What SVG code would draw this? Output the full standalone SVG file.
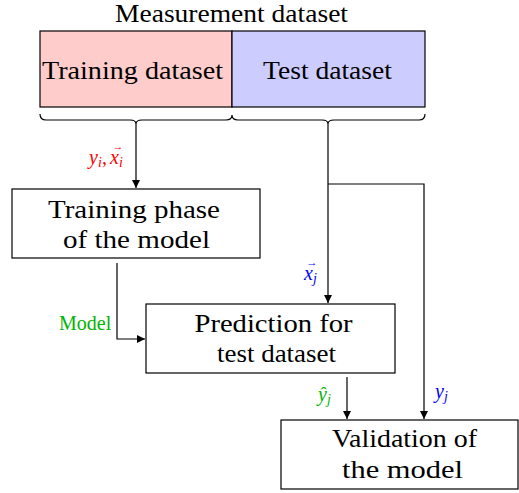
<svg xmlns="http://www.w3.org/2000/svg" width="519" height="493" viewBox="0 0 519 493">
<style>
.box{fill:#fff;stroke:#000;stroke-width:1.2}
.t{font-family:"Liberation Serif","DejaVu Serif",serif;font-size:25px;fill:#000;text-anchor:middle}
.m{font-family:"Liberation Serif","DejaVu Serif",serif;font-style:italic;font-size:20px}
.sub{font-size:14px}
.acc{font-size:11px;font-style:normal}
.c{fill:none;stroke:#000;stroke-width:1.2}
.red{fill:#ff0000}.blue{fill:#0000ff}.green{fill:#00b400}
</style>
<defs>
<marker id="ah" viewBox="0 0 10 10" refX="10" refY="5" markerWidth="8" markerHeight="8" markerUnits="userSpaceOnUse" orient="auto">
<path d="M0,0 L10,5 L0,10 Z" fill="#000"/>
</marker>
</defs>
<g id="dataset">
<text class="t" x="231.5" y="22" textLength="233" lengthAdjust="spacingAndGlyphs">Measurement dataset</text>
<rect x="40" y="31" width="192" height="76" fill="#ffcccc" stroke="#000" stroke-width="1.2"/>
<rect x="232" y="31" width="193" height="76" fill="#ccccff" stroke="#000" stroke-width="1.2"/>
<text class="t" x="132.5" y="79" textLength="181" lengthAdjust="spacingAndGlyphs">Training dataset</text>
<text class="t" x="327.5" y="79" textLength="129" lengthAdjust="spacingAndGlyphs">Test dataset</text>
</g>
<g id="braces">
<path class="c" d="M40,114 Q40,120 46,120 L130,120 Q136,120 136,124 Q136,120 142,120 L226,120 Q232,120 232,115 Q232,120 238,120 L322,120 Q328,120 328,124 Q328,120 334,120 L419,120 Q425,120 425,114"/>
</g>
<g id="training">
<rect class="box" x="12" y="189" width="248" height="69"/>
<text class="t" x="134" y="218" textLength="172" lengthAdjust="spacingAndGlyphs">Training phase</text>
<text class="t" x="136.5" y="248" textLength="147" lengthAdjust="spacingAndGlyphs">of the model</text>
</g>
<g id="prediction">
<rect class="box" x="146" y="304" width="249" height="69"/>
<text class="t" x="273.5" y="332" textLength="158" lengthAdjust="spacingAndGlyphs">Prediction for</text>
<text class="t" x="276.5" y="362" textLength="119" lengthAdjust="spacingAndGlyphs">test dataset</text>
</g>
<g id="validation">
<rect class="box" x="281" y="420" width="237" height="69"/>
<text class="t" x="404.5" y="447" textLength="145" lengthAdjust="spacingAndGlyphs">Validation of</text>
<text class="t" x="402.5" y="478" textLength="121" lengthAdjust="spacingAndGlyphs">the model</text>
</g>
<g id="connectors">
<path class="c" d="M136,124 L136,188" marker-end="url(#ah)"/>
<path class="c" d="M328,124 L328,303" marker-end="url(#ah)"/>
<path class="c" d="M328,184 L424,184 L424,419" marker-end="url(#ah)"/>
<path class="c" d="M117,263 L117,339 L145,339" marker-end="url(#ah)"/>
<path class="c" d="M347,377 L347,419" marker-end="url(#ah)"/>
</g>
<g id="labels">
<text class="m red" y="164"><tspan x="89">y</tspan><tspan class="sub" x="98" dy="3">i</tspan><tspan x="102" dy="-3">,</tspan><tspan x="110">x</tspan><tspan class="acc" x="112.5" dy="-14">→</tspan><tspan class="sub" x="119" dy="17">i</tspan></text>
<text class="m blue" y="280"><tspan x="304">x</tspan><tspan class="acc" x="306.5" dy="-14">→</tspan><tspan class="sub" x="313" dy="17">j</tspan></text>
<text class="green" x="59" y="330" font-family="Liberation Serif, DejaVu Serif, serif" font-size="20">Model</text>
<text class="m green" y="401"><tspan x="318">ŷ</tspan><tspan class="sub" x="327" dy="3">j</tspan></text>
<text class="m blue" y="398"><tspan x="435">y</tspan><tspan class="sub" x="444" dy="3">j</tspan></text>
</g>
</svg>
